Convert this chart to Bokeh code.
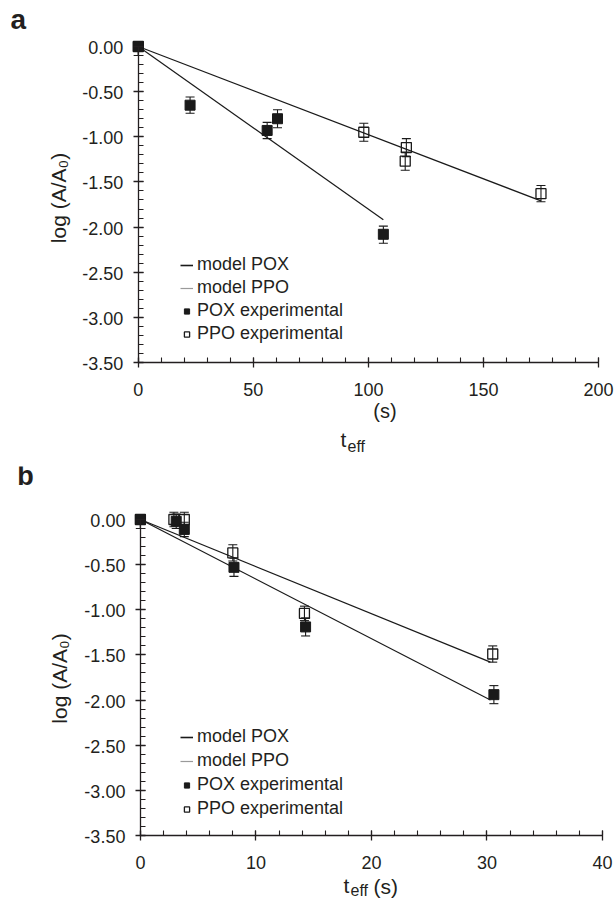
import math
from bokeh.plotting import figure
from bokeh.models import (ColumnDataSource, Whisker, TeeHead, FixedTicker, CustomJSTickFormatter,
                          LinearAxis, Range1d, Label, Legend, LegendItem)
from bokeh.layouts import column
from bokeh.embed import file_html
from bokeh.resources import INLINE

# ---------------- data: panel a ----------------
a_pox_t = [0, 22.5, 56.0, 60.5, 106.5]
a_pox_y = [0.00, -0.65, -0.93, -0.80, -2.08]
a_pox_err_up = [0.00, 0.09, 0.09, 0.10, 0.09]
a_pox_err_dn = [0.10, 0.09, 0.09, 0.10, 0.10]
a_ppo_t = [0, 98.0, 116.5, 116.0, 175.0]
a_ppo_y = [0.00, -0.95, -1.12, -1.27, -1.63]
a_ppo_err_up = [0.00, 0.10, 0.10, 0.10, 0.09]
a_ppo_err_dn = [0.10, 0.10, 0.10, 0.10, 0.09]
a_model_pox_t = [0, 106.5]
a_model_pox_y = [0.00, -1.92]
a_model_ppo_t = [0, 175.0]
a_model_ppo_y = [0.00, -1.71]

# ---------------- data: panel b ----------------
b_pox_t = [0, 3.1, 3.8, 8.1, 14.3, 30.6]
b_pox_y = [0.00, -0.02, -0.11, -0.53, -1.19, -1.94]
b_pox_err_up = [0.00, 0.08, 0.08, 0.10, 0.10, 0.10]
b_pox_err_dn = [0.10, 0.08, 0.08, 0.10, 0.10, 0.10]
b_ppo_t = [0, 2.9, 3.8, 8.0, 14.2, 30.5]
b_ppo_y = [0.00, 0.00, 0.00, -0.37, -1.04, -1.49]
b_ppo_err_up = [0.00, 0.08, 0.08, 0.09, 0.08, 0.09]
b_ppo_err_dn = [0.10, 0.08, 0.08, 0.09, 0.08, 0.09]
b_model_pox_t = [0, 30.3]
b_model_pox_y = [0.00, -2.00]
b_model_ppo_t = [0, 30.3]
b_model_ppo_y = [0.00, -1.58]

# ---------------- ticks ----------------
y_ticks = [-3.5, -3.0, -2.5, -2.0, -1.5, -1.0, -0.5, 0.0]
y_minor = [round(-3.5 + 0.1 * i, 1) for i in range(36)]
a_x_ticks = [0, 50, 100, 150, 200]
a_x_minor = list(range(0, 201, 10))
b_x_ticks = [0, 10, 20, 30, 40]
b_x_minor = list(range(0, 41, 2))

legend_labels = ["model POX", "model PPO", "POX experimental", "PPO experimental"]
y_label = "log (A/A\u2080)"

FONT = "Liberation Sans"
INK = "#231f20"
BLACK = "#1a1a1a"
W = 614
NAN = float("nan")


def make_panel(height, top_img, x0px, kx, y0px, ky, frame, x_side, xmax, xt, xminor,
               pox, ppo, mpox, mppo, leg_loc, leg_spacing):
    # frame = (left, right, top, bottom) in image pixels; mapping img = x0px + kx*x, img = y0px - ky*y
    fl, fr, ft, fb = frame
    xr = Range1d((fl - x0px) / kx, (fr - x0px) / kx)
    yr = Range1d((y0px - fb) / ky, (y0px - ft) / ky)
    p = figure(width=W, height=height, x_range=xr, y_range=yr,
               output_backend="svg", toolbar_location=None,
               x_axis_type=None, y_axis_type=None,
               min_border_left=fl, min_border_right=W - fr,
               min_border_top=ft - top_img, min_border_bottom=top_img + height - fb)
    p.outline_line_color = None
    p.background_fill_color = "white"
    p.border_fill_color = "white"

    blank = CustomJSTickFormatter(code="return ''")

    def style(ax):
        ax.axis_line_color = INK
        ax.axis_line_width = 1.3
        ax.major_tick_line_color = INK
        ax.major_tick_line_width = 1.3
        ax.minor_tick_line_color = INK
        ax.minor_tick_line_width = 1.1
        ax.major_tick_in = 5
        ax.major_tick_out = 5
        ax.major_label_standoff = 0
        ax.major_label_text_font_size = "1px"

    yax = LinearAxis(fixed_location=0, bounds=(-3.5, 0),
                     ticker=FixedTicker(ticks=y_ticks, minor_ticks=y_minor), formatter=blank)
    style(yax)
    yax.minor_tick_in = 5
    yax.minor_tick_out = 0
    p.add_layout(yax, "left")

    xax = LinearAxis(fixed_location=-3.5, bounds=(0, xmax),
                     ticker=FixedTicker(ticks=xt, minor_ticks=xminor), formatter=blank)
    style(xax)
    if x_side == "below":
        xax.minor_tick_in = 5
        xax.minor_tick_out = 0
    else:
        xax.minor_tick_in = 0
        xax.minor_tick_out = 5
    p.add_layout(xax, x_side)

    # tick labels from the tick lists
    for v in y_ticks:
        p.add_layout(Label(x=0, y=v, text="%.2f" % v, x_offset=-15, y_offset=-1,
                           text_align="right", text_baseline="middle",
                           text_font=FONT, text_font_size="18px", text_color=INK))
    for v in xt:
        p.add_layout(Label(x=v, y=-3.5, text="%d" % v, y_offset=-27,
                           text_align="center", text_baseline="middle",
                           text_font=FONT, text_font_size="18px", text_color=INK))

    # model lines
    p.line(mpox[0], mpox[1], line_color=BLACK, line_width=1.2)
    p.line(mppo[0], mppo[1], line_color=BLACK, line_width=1.2)

    srcs = []
    for t, y, up, dn in (ppo, pox):
        s = ColumnDataSource(dict(t=t, y=y,
                                  hi=[yy + e for yy, e in zip(y, up)],
                                  lo=[yy - e for yy, e in zip(y, dn)]))
        w = Whisker(source=s, base="t", upper="hi", lower="lo", dimension="height",
                    line_color=BLACK, line_width=1.1,
                    upper_head=TeeHead(size=9, line_color=BLACK, line_width=1.1),
                    lower_head=TeeHead(size=9, line_color=BLACK, line_width=1.1))
        p.add_layout(w)
        srcs.append(s)

    r_ppo = p.scatter("t", "y", source=srcs[0], marker="square", size=10,
                      fill_color=None, line_color=BLACK, line_width=1.3)
    r_pox = p.scatter("t", "y", source=srcs[1], marker="square", size=10,
                      fill_color=BLACK, line_color=BLACK, line_width=1.0)

    # legend-only line renderers (NaN data draws nothing in the plot)
    l1 = p.line([NAN], [NAN], line_color=BLACK, line_width=1.6)
    l2 = p.line([NAN], [NAN], line_color="#9a9a9a", line_width=1.2)
    legend = Legend(items=[LegendItem(label=legend_labels[0], renderers=[l1]),
                           LegendItem(label=legend_labels[1], renderers=[l2]),
                           LegendItem(label=legend_labels[2], renderers=[r_pox]),
                           LegendItem(label=legend_labels[3], renderers=[r_ppo])],
                    location=leg_loc, padding=0, margin=0, spacing=leg_spacing,
                    glyph_width=13, glyph_height=20, label_height=20, label_standoff=4,
                    label_text_font=FONT, label_text_font_size="18px",
                    label_text_color=INK, background_fill_alpha=0,
                    border_line_color=None)
    p.add_layout(legend)

    def lab(px, py, text, size, align="left", angle=0.0, bold=False):
        # (px, py): centre line of the text in image pixels
        x = (px - x0px) / kx
        y = (y0px - py) / ky
        p.add_layout(Label(x=x, y=y, text=text, text_font=FONT, text_font_size=size,
                           text_color=INK, text_align=align, text_baseline="middle",
                           angle=angle, text_font_style="bold" if bold else "normal"))
    return p, lab


# ---------------- panel a (image rows 0..460) ----------------
pa, lab_a = make_panel(460, 0, 137.8, 2.301, 46.0, 90.28, (8, 614, 0, 452), "below",
                       200, a_x_ticks, a_x_minor,
                       (a_pox_t, a_pox_y, a_pox_err_up, a_pox_err_dn),
                       (a_ppo_t, a_ppo_y, a_ppo_err_up, a_ppo_err_dn),
                       (a_model_pox_t, a_model_pox_y), (a_model_ppo_t, a_model_ppo_y),
                       (172, 108), 2)
lab_a(10, 18.5, "a", "28px", bold=True)
lab_a(57.5, 197.5, y_label, "21px", align="center", angle=math.pi / 2)
lab_a(384.5, 410.5, "(s)", "20px", align="center")
lab_a(340, 439.2, "t", "21px")
lab_a(347, 446.4, "eff", "16px")

# ---------------- panel b (image rows 460..900) ----------------
pb, lab_b = make_panel(440, 460, 139.9, 11.552, 519.0, 90.28, (8, 614, 466, 900), "above",
                       40, b_x_ticks, b_x_minor,
                       (b_pox_t, b_pox_y, b_pox_err_up, b_pox_err_dn),
                       (b_ppo_t, b_ppo_y, b_ppo_err_up, b_ppo_err_dn),
                       (b_model_pox_t, b_model_pox_y), (b_model_ppo_t, b_model_ppo_y),
                       (172, 81), 3)
lab_b(16.7, 475.5, "b", "27px", bold=True)
lab_b(59, 678, y_label, "21px", align="center", angle=math.pi / 2)
lab_b(343, 884.5, "t", "21px")
lab_b(350, 889.5, "eff", "16px")
lab_b(373, 885.5, "(s)", "21px")

layout = column(pa, pb)
open("out.html", "w").write(file_html(layout, INLINE))
